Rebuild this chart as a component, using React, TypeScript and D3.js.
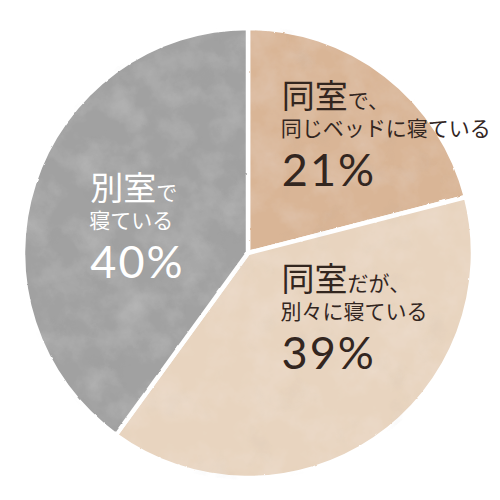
import React from 'react';
import { pie, arc, PieArcDatum } from 'd3';

// slices, clockwise from 12 o'clock
const keys = ['sameBed', 'sameRoom', 'separate'];
const values = [21, 39, 40];
const headLabels = ['同室', '同室', '別室'];
const headSuffix = ['で、', 'だが、', 'で'];
const subLabels = ['同じベッドに寝ている', '別々に寝ている', '寝ている'];

const fills = ['#d9b596', '#e8d4bf', '#a1a1a1'];
const textColors = ['#33261f', '#33261f', '#ffffff'];
// label block nudges from the slice centroid (left edge / first baseline)
const labelNudge: Array<[number, number]> = [
  [-42, -47],
  [-36, -64],
  [-40, -15],
];

const width = 500;
const height = 500;
const cx = 240; // svg sits after the 8px body margin
const cy = 245;
const radius = 225;

const jp = '"Noto Sans CJK JP", "Noto Sans", sans-serif';
const num = 'Lato, "Noto Sans", sans-serif';

type Slice = { key: string; value: number; i: number };

const App: React.FC = () => {
  const data: Slice[] = keys.map((key, i) => ({ key, value: values[i], i }));
  const arcs = pie<Slice>()
    .sort(null)
    .value(d => d.value)(data);

  const sliceArc = arc<PieArcDatum<Slice>>().innerRadius(0).outerRadius(radius);
  const labelArc = arc<PieArcDatum<Slice>>()
    .innerRadius(radius * 0.55)
    .outerRadius(radius * 0.55);

  return (
    <svg width={width} height={height} style={{ display: 'block' }}>
      <defs>
        <filter id="wash" x="-5%" y="-5%" width="110%" height="110%">
          <feTurbulence type="fractalNoise" baseFrequency="0.03" numOctaves={5} seed={7} result="noise" />
          <feColorMatrix
            in="noise"
            type="matrix"
            values="0 0 0 0 1  0 0 0 0 1  0 0 0 0 1  0.3 0 0 0 -0.12"
            result="light"
          />
          <feColorMatrix
            in="noise"
            type="matrix"
            values="0 0 0 0 0.3  0 0 0 0 0.3  0 0 0 0 0.3  0 -0.25 0 0 0.1"
            result="dark"
          />
          <feComposite in="light" in2="SourceGraphic" operator="in" result="lightIn" />
          <feComposite in="dark" in2="SourceGraphic" operator="in" result="darkIn" />
          <feMerge result="textured">
            <feMergeNode in="SourceGraphic" />
            <feMergeNode in="darkIn" />
            <feMergeNode in="lightIn" />
          </feMerge>
          <feTurbulence type="fractalNoise" baseFrequency="0.12" numOctaves={2} seed={3} result="grain" />
          <feDisplacementMap in="textured" in2="grain" scale={2} xChannelSelector="R" yChannelSelector="G" />
        </filter>
      </defs>
      <g transform={`translate(${cx},${cy})`}>
        <g filter="url(#wash)">
          {arcs.map(a => (
            <path
              key={a.data.key}
              d={sliceArc(a) || ''}
              fill={fills[a.data.i]}
              stroke="#fff"
              strokeWidth={4.5}
              strokeLinejoin="round"
            />
          ))}
        </g>
        {arcs.map(a => {
          const i = a.data.i;
          const [lx, ly] = labelArc.centroid(a);
          const x = lx + labelNudge[i][0];
          const y = ly + labelNudge[i][1];
          return (
            <g key={`lab-${a.data.key}`} fill={textColors[i]}>
              <text x={x} y={y} fontFamily={jp}>
                <tspan fontSize={33}>{headLabels[i]}</tspan>
                <tspan fontSize={21}>{headSuffix[i]}</tspan>
              </text>
              <text x={x - 1} y={y + 28} fontFamily={jp} fontSize={21}>
                {subLabels[i]}
              </text>
              <text x={x} y={y + 78} fontFamily={num} fontSize={45} letterSpacing={2}>
                {`${a.data.value}%`}
              </text>
            </g>
          );
        })}
      </g>
    </svg>
  );
};

export default App;
